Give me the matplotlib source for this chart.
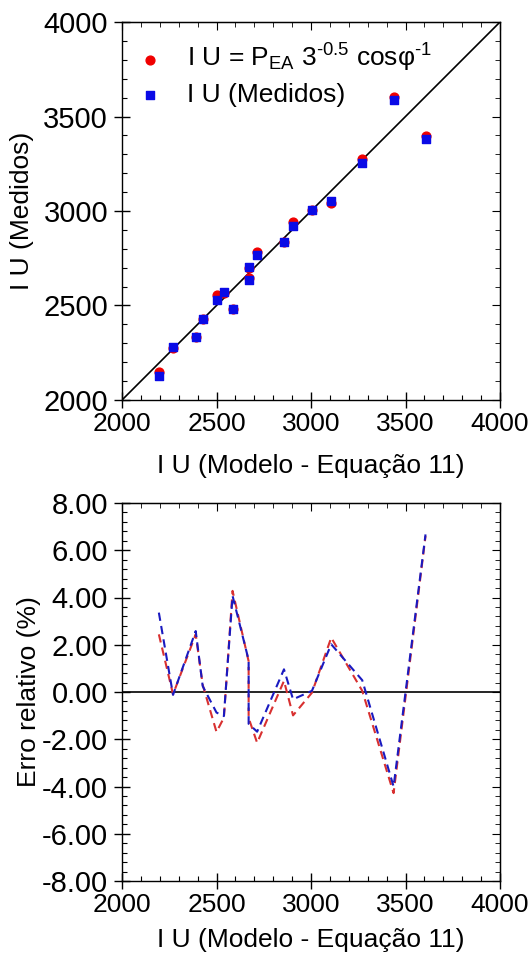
import matplotlib
matplotlib.use("Agg")
import matplotlib.pyplot as plt
from matplotlib.ticker import MultipleLocator, FormatStrFormatter

plt.rcParams['font.family'] = ['Liberation Sans', 'DejaVu Sans']
plt.rcParams['mathtext.fontset'] = 'custom'
plt.rcParams['mathtext.rm'] = 'Liberation Sans'
plt.rcParams['mathtext.it'] = 'Liberation Sans:italic'
plt.rcParams['axes.unicode_minus'] = False

# ---- data ----
x_model = [2195, 2270, 2390, 2427, 2500, 2539, 2585, 2670, 2670, 2715,
           2857, 2905, 3005, 3107, 3271, 3437, 3606]
iu_calc = [2150, 2273, 2335, 2429, 2556, 2567, 2481, 2648, 2700, 2781,
           2838, 2943, 3005, 3041, 3273, 3605, 3397]
iu_meas = [2127, 2279, 2335, 2429, 2529, 2573, 2481, 2635, 2705, 2767,
           2838, 2920, 3005, 3055, 3252, 3587, 3379]
err_calc = [2.44, -0.10, 2.44, 0.30, -1.69, -1.09, 4.28, 1.30, -1.10, -2.15,
            0.47, -0.99, -0.03, 2.30, 0.05, -4.28, 6.60]
err_meas = [3.36, -0.12, 2.58, 0.25, -0.87, -1.02, 4.07, 1.35, -1.35, -1.68,
            0.96, -0.31, 0.05, 2.02, 0.50, -4.00, 6.67]

xlabel = 'I U (Modelo - Equação 11)'
red = '#f00000'
blue = '#0a0ae6'
fs = 19
fs_y = 21

fig = plt.figure(figsize=(5.31, 9.65), dpi=100)
ax1 = fig.add_axes([122/531, 1-400/965, 378/531, 378/965])
ax2 = fig.add_axes([122/531, 1-881/965, 378/531, 378/965])


def style(ax, ymaj, ymin):
    ax.xaxis.set_major_locator(MultipleLocator(500))
    ax.xaxis.set_minor_locator(MultipleLocator(100))
    ax.yaxis.set_major_locator(MultipleLocator(ymaj))
    ax.yaxis.set_minor_locator(MultipleLocator(ymin))
    ax.tick_params(which='major', direction='inout', length=12, width=1.0)
    ax.tick_params(axis='x', which='major', labelsize=fs, pad=3)
    ax.tick_params(axis='y', which='major', labelsize=fs_y, pad=4)
    ax.tick_params(which='minor', direction='in', length=3.5, width=0.8)
    for s in ax.spines.values():
        s.set_linewidth(1.0)
    sx = ax.secondary_xaxis('top')
    sx.xaxis.set_major_locator(MultipleLocator(500))
    sx.xaxis.set_minor_locator(MultipleLocator(100))
    sx.tick_params(which='major', direction='in', length=6, labeltop=False)
    sx.tick_params(which='minor', direction='in', length=3.5)
    sy = ax.secondary_yaxis('right')
    sy.yaxis.set_major_locator(MultipleLocator(ymaj))
    sy.yaxis.set_minor_locator(MultipleLocator(ymin))
    sy.tick_params(which='major', direction='in', length=6, labelright=False)
    sy.tick_params(which='minor', direction='in', length=3.5)


# ---- top panel ----
ax1.plot([2000, 4000], [2000, 4000], color='black', lw=1.2, zorder=1)
ax1.scatter(x_model, iu_calc, s=40, marker='o', color=red, zorder=3,
            label=r'I U = P$_{\mathrm{EA}}$ 3$^{\text{-0.5}}$ cosφ$^{\text{-1}}$')
ax1.scatter(x_model, iu_meas, s=32, marker='s', color=blue, zorder=4,
            label='I U (Medidos)')
ax1.set_xlim(2000, 4000)
ax1.set_ylim(2000, 4000)
style(ax1, 500, 100)
ax1.set_xlabel(xlabel, fontsize=fs)
ax1.set_ylabel('I U (Medidos)', fontsize=fs)
ax1.xaxis.set_label_coords(0.5, -0.142)
ax1.yaxis.set_label_coords(-0.232, 0.5)
ax1.legend(loc='upper left', bbox_to_anchor=(0.018, 0.968), frameon=False,
           fontsize=fs, handletextpad=0.9, borderaxespad=0.0,
           labelspacing=0.33, handlelength=1.0, borderpad=0.3)

# ---- bottom panel ----
ax2.axhline(0, color='black', lw=1.2, zorder=1)
ax2.plot(x_model, err_calc, color='#d83030', lw=1.5, ls=(0, (4, 2.5)), zorder=2)
ax2.plot(x_model, err_meas, color='#1a1ac0', lw=1.5, ls=(0, (4, 2.5)), zorder=3)
ax2.set_xlim(2000, 4000)
ax2.set_ylim(-8, 8)
style(ax2, 2, 0.4)
ax2.yaxis.set_major_formatter(FormatStrFormatter('%.2f'))
ax2.set_xlabel(xlabel, fontsize=fs)
ax2.set_ylabel('Erro relativo (%)', fontsize=fs)
ax2.xaxis.set_label_coords(0.5, -0.125)
ax2.yaxis.set_label_coords(-0.215, 0.5)

fig.savefig('out.png', dpi=100)
